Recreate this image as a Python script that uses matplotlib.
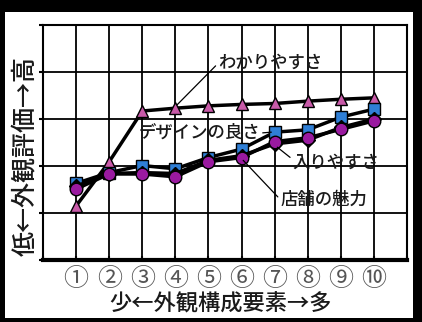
import matplotlib.pyplot as plt
from matplotlib.patches import Rectangle

plt.rcParams['font.family'] = ['Noto Sans CJK JP', 'DejaVu Sans']

x_pos = [1, 2, 3, 4, 5, 6, 7, 8, 9, 10]
x_labels = ['①', '②', '③', '④', '⑤', '⑥', '⑦', '⑧', '⑨', '⑩']

wakariyasusa = [1.15, 2.09, 3.17, 3.23, 3.28, 3.31, 3.33, 3.38, 3.42, 3.45]
design = [1.63, 1.86, 2.01, 1.94, 2.18, 2.36, 2.72, 2.77, 3.04, 3.21]
iriyasusa = [1.57, 1.84, 1.86, 1.84, 2.12, 2.22, 2.47, 2.55, 2.82, 3.00]
miryoku = [1.51, 1.83, 1.83, 1.77, 2.09, 2.18, 2.52, 2.60, 2.78, 2.96]

fig = plt.figure(figsize=(4.22, 3.22), dpi=100, facecolor='black')
fig.patches.append(Rectangle((5 / 422, 4 / 322), 408 / 422, 306 / 322,
                             transform=fig.transFigure, facecolor='white',
                             edgecolor='none', zorder=-5))

ax = fig.add_axes([43 / 422, 62 / 322, 364 / 422, 235 / 322], zorder=2)
ax.set_facecolor('white')
ax.set_xlim(0, 11)
ax.set_ylim(0, 5)

ax.plot(x_pos, wakariyasusa, color='black', lw=2.5, marker='^', ms=9,
        mfc='#c85aa8', mec='black', mew=1, zorder=3)
ax.plot(x_pos, design, color='black', lw=2.5, marker='s', ms=8,
        mfc='#2f7fd6', mec='black', mew=1, zorder=4)
ax.plot(x_pos, iriyasusa, color='black', lw=2.5, marker='D', ms=7,
        mfc='black', mec='black', zorder=5)
ax.plot(x_pos, miryoku, color='black', lw=2.5, marker='o', ms=9,
        mfc='#9a1aa0', mec='black', mew=1, zorder=6)

kw = dict(fontsize=12.5, color='#1a1a1a', fontweight='medium', zorder=7)
ax.annotate('わかりやすさ', xy=(4.05, 3.3), xytext=(5.3, 4.19), va='center', ha='left',
            arrowprops=dict(arrowstyle='-', color='black', lw=0.9, shrinkA=0, shrinkB=0,
                            relpos=(0, 0.5)), **kw)
ax.annotate('デザインの良さ', xy=(6.9, 2.72), xytext=(2.88, 2.70), va='center', ha='left',
            arrowprops=dict(arrowstyle='-', color='black', lw=0.9, shrinkA=0, shrinkB=0,
                            relpos=(1, 0.5)), **kw)
ax.annotate('入りやすさ', xy=(7.08, 2.4), xytext=(7.55, 2.06), va='center', ha='left',
            arrowprops=dict(arrowstyle='-', color='black', lw=0.9, shrinkA=0, shrinkB=0,
                            relpos=(0, 0.7)), **kw)
ax.annotate('店舗の魅力', xy=(6.05, 2.12), xytext=(7.18, 1.28), va='center', ha='left',
            arrowprops=dict(arrowstyle='-', color='black', lw=0.9, shrinkA=0, shrinkB=0,
                            relpos=(0, 0.5)), **kw)

ax.set_xticks(range(0, 12))
ax.set_xticklabels([''] + x_labels + [''], fontsize=18, color='#555555')
ax.set_yticks(range(0, 6))
ax.set_yticklabels([])
ax.grid(True, color='black', lw=1.3)
ax.set_axisbelow(True)
ax.tick_params(axis='x', direction='in', length=3, width=1.5, pad=4)
ax.tick_params(axis='y', direction='out', length=3, width=1.5)
for s in ax.spines.values():
    s.set_linewidth(1.5)
ax.spines['bottom'].set_linewidth(3)

fig.text(26 / 422, 166 / 322, '低←外観評価→高', rotation=90, ha='center', va='center',
         fontsize=18, color='#1a1a1a', fontweight='medium')
fig.text(221 / 422, 18 / 322, '少←外観構成要素→多', ha='center', va='center',
         fontsize=16, color='#1a1a1a', fontweight='medium')

fig.savefig('out.png', dpi=100, facecolor=fig.get_facecolor())
